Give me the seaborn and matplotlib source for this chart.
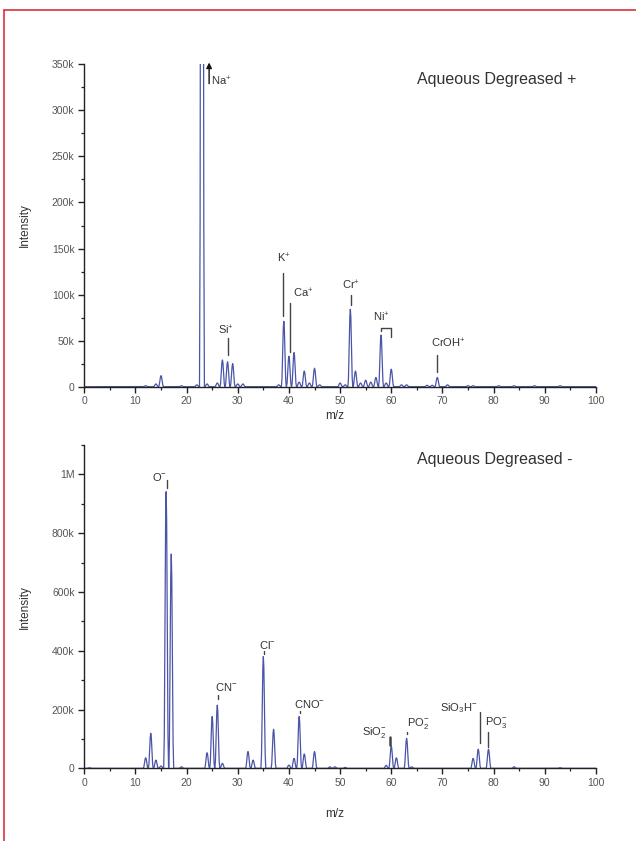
import numpy as np
import pandas as pd
import matplotlib
matplotlib.use("Agg")
import matplotlib.pyplot as plt
from matplotlib.lines import Line2D
from matplotlib.ticker import MultipleLocator, FuncFormatter
import seaborn as sns

# ---------------- data (m/z, intensity in counts) ----------------
mz_pos = [12, 14, 15, 19, 22, 23, 24, 26, 27, 28, 29, 30, 31, 38, 39, 40, 41, 42, 43, 44,
          45, 46, 50, 51, 52, 53, 54, 55, 56, 57, 58, 59, 60, 62, 63, 67, 68, 69, 71, 75,
          76, 81, 84, 88, 93]
int_pos = [1e3, 3e3, 12e3, 1e3, 2e3, 1500e3, 3e3, 4e3, 29e3, 27e3, 25e3, 3e3, 3e3, 2e3, 71e3,
           33e3, 37e3, 5e3, 17e3, 4e3, 20e3, 2e3, 4e3, 2e3, 84e3, 17e3, 4e3, 7e3, 5e3, 10e3,
           56e3, 4e3, 19e3, 2e3, 2e3, 1.5e3, 1.5e3, 10e3, 2e3, 1e3, 1e3, 1e3, 1e3, 1e3, 1e3]

mz_neg = [1, 12, 13, 14, 15, 16, 17, 19, 24, 25, 26, 27, 32, 33, 35, 37, 40, 41, 42, 43, 45,
          48, 49, 51, 59, 60, 61, 63, 64, 76, 77, 79, 84, 93]
int_neg = [2e3, 36e3, 119e3, 28e3, 8e3, 941e3, 729e3, 5e3, 53e3, 176e3, 215e3, 17e3, 57e3,
           28e3, 380e3, 133e3, 11e3, 34e3, 176e3, 49e3, 57e3, 5e3, 5e3, 3e3, 10e3, 76e3,
           36e3, 102e3, 5e3, 34e3, 65e3, 65e3, 5e3, 2e3]

x_ticks = [0, 10, 20, 30, 40, 50, 60, 70, 80, 90, 100]

# peak annotations: (label, text_x, text_y, line_x, line_y0, line_y1)
labels_pos = [
    ("Si$^{+}$", 27.7, 61.6e3, 28.1, 52.9e3, 34.4e3),
    ("K$^{+}$", 39.0, 139.7e3, 38.75, 123.4e3, 76.8e3),
    ("Cr$^{+}$", 52.1, 110.4e3, 52.1, 99.6e3, 88.7e3),
    ("CrOH$^{+}$", 71.1, 47.4e3, 69.0, 34.4e3, 16.0e3),
]
labels_neg = [
    ("O$^{-}$", 14.6, 991e3, 16.2, 980e3, 955e3),
    ("CN$^{-}$", 27.8, 276e3, 26.2, 249e3, 236e3),
    ("Cl$^{-}$", 35.7, 419e3, 35.1, 398e3, 388e3),
    ("CNO$^{-}$", 44.0, 219e3, 42.1, 195e3, 188e3),
    ("SiO$_{2}^{-}$", 56.8, 123e3, 59.8, 107e3, 79e3),
    ("PO$_{2}^{-}$", 65.3, 154e3, 63.1, 122e3, 116e3),
    ("SiO$_{3}$H$^{-}$", 73.2, 205e3, 77.3, 192e3, 86e3),
    ("PO$_{3}^{-}$", 80.5, 157e3, 79.0, 123e3, 72e3),
]

# peak shape (style)
K_OFF = [-0.48, -0.36, -0.24, -0.1, 0.0, 0.1, 0.24, 0.36, 0.48]
K_FR = [0.0, 0.12, 0.5, 0.9, 1.0, 0.9, 0.5, 0.12, 0.0]


def profile(mz, inten):
    xs, ys = [0.0], [0.0]
    for m, h in zip(mz, inten):
        for o, f in zip(K_OFF, K_FR):
            xs.append(m + o)
            ys.append(h * f)
    xs.append(100.0)
    ys.append(0.0)
    return pd.DataFrame({"mz": xs, "intensity": ys})


sns.set_style("ticks")
plt.rcParams["font.family"] = ["Liberation Sans", "DejaVu Sans"]
plt.rcParams["mathtext.fontset"] = "custom"
plt.rcParams["mathtext.rm"] = "Liberation Sans"
plt.rcParams["mathtext.it"] = "Liberation Sans:italic"
plt.rcParams["mathtext.bf"] = "Liberation Sans:bold"

LINE = "#4b55a8"
TXT = "#333333"
TICK = "#555555"

fig = plt.figure(figsize=(6.36, 8.41), dpi=100)
ax1 = fig.add_axes([0.1325, 0.5402, 0.8045, 0.3833])
ax2 = fig.add_axes([0.1325, 0.0864, 0.8045, 0.3845])


def style_axis(ax, ymax, ymajor, yminor, fmt, xlab_y):
    ax.set_xlim(0, 100)
    ax.set_ylim(0, ymax)
    ax.set_xticks(x_ticks)
    ax.xaxis.set_minor_locator(MultipleLocator(5))
    ax.yaxis.set_major_locator(MultipleLocator(ymajor))
    ax.yaxis.set_minor_locator(MultipleLocator(yminor))
    ax.yaxis.set_major_formatter(FuncFormatter(fmt))
    sns.despine(ax=ax)
    for s in ("left", "bottom"):
        ax.spines[s].set_color("#222222")
        ax.spines[s].set_linewidth(1.0)
    ax.tick_params(axis="both", which="major", direction="out", length=4, width=1.0,
                   color="#222222", labelsize=7.5, labelcolor=TICK, pad=3)
    ax.tick_params(axis="both", which="minor", direction="out", length=2.5, width=0.9,
                   color="#222222")
    ax.set_xlabel("m/z", fontsize=8.5, color=TXT)
    ax.set_ylabel("Intensity", fontsize=8.5, color=TXT)
    ax.xaxis.set_label_coords(0.49, xlab_y)
    ax.yaxis.set_label_coords(-0.105, 0.5)


def fmt_pos(v, p):
    return "0" if v == 0 else f"{int(round(v / 1000))}k"


def fmt_neg(v, p):
    if v == 0:
        return "0"
    if v >= 1e6:
        return "1M"
    return f"{int(round(v / 1000))}k"


df_pos = profile(mz_pos, int_pos)
df_neg = profile(mz_neg, int_neg)

sns.lineplot(data=df_pos, x="mz", y="intensity", ax=ax1, sort=False, estimator=None,
             color=LINE, linewidth=0.9)
sns.lineplot(data=df_neg, x="mz", y="intensity", ax=ax2, sort=False, estimator=None,
             color=LINE, linewidth=0.9)

style_axis(ax1, 350e3, 50e3, 25e3, fmt_pos, -0.072)
style_axis(ax2, 1.1e6, 200e3, 100e3, fmt_neg, -0.123)

ax1.text(0.65, 0.954, "Aqueous Degreased +", transform=ax1.transAxes, fontsize=11.5,
         color=TXT, ha="left", va="center")
ax2.text(0.65, 0.954, "Aqueous Degreased -", transform=ax2.transAxes, fontsize=11.5,
         color=TXT, ha="left", va="center")

LC = "#444444"
LFS = 8

# Na+ arrow (peak off-scale)
ax1.annotate("", xy=(24.4, 355e3), xytext=(24.4, 326e3), annotation_clip=False,
             arrowprops=dict(arrowstyle="-|>", color="#111111", lw=1.0, mutation_scale=8))
ax1.text(24.75, 331e3, "Na$^{+}$", fontsize=LFS, color=TXT, ha="left", va="center")

for lab, tx, ty, lx, y0, y1 in labels_pos:
    ax1.text(tx, ty, lab, fontsize=LFS, color=TXT, ha="center", va="center")
    ax1.plot([lx, lx], [y0, y1], color=LC, lw=1.0)

# Ca+
ax1.text(40.8, 101.7e3, "Ca$^{+}$", fontsize=LFS, color=TXT, ha="left", va="center")
ax1.plot([40.2, 40.2], [90.9e3, 37.7e3], color=LC, lw=1.0)

# Ni+ bracket
ax1.text(58.0, 75.7e3, "Ni$^{+}$", fontsize=LFS, color=TXT, ha="center", va="center")
ax1.plot([58.0, 58.0, 60.0, 60.0], [60.4e3, 63.7e3, 63.7e3, 54e3], color=LC, lw=1.0)

for lab, tx, ty, lx, y0, y1 in labels_neg:
    ax2.text(tx, ty, lab, fontsize=LFS, color=TXT, ha="center", va="center")
    lw = 1.8 if lab.startswith("SiO$_{2}") else 1.0
    ax2.plot([lx, lx], [y0, y1], color=LC, lw=lw)

# red frame lines (left and top)
fig.add_artist(Line2D([4 / 636, 4 / 636], [0, 1 - 9.5 / 841], color="#d9303e", lw=1.2,
                      transform=fig.transFigure))
fig.add_artist(Line2D([4 / 636, 1], [1 - 9.5 / 841, 1 - 9.5 / 841], color="#d9303e", lw=1.2,
                      transform=fig.transFigure))

fig.savefig("out.png", dpi=100)
